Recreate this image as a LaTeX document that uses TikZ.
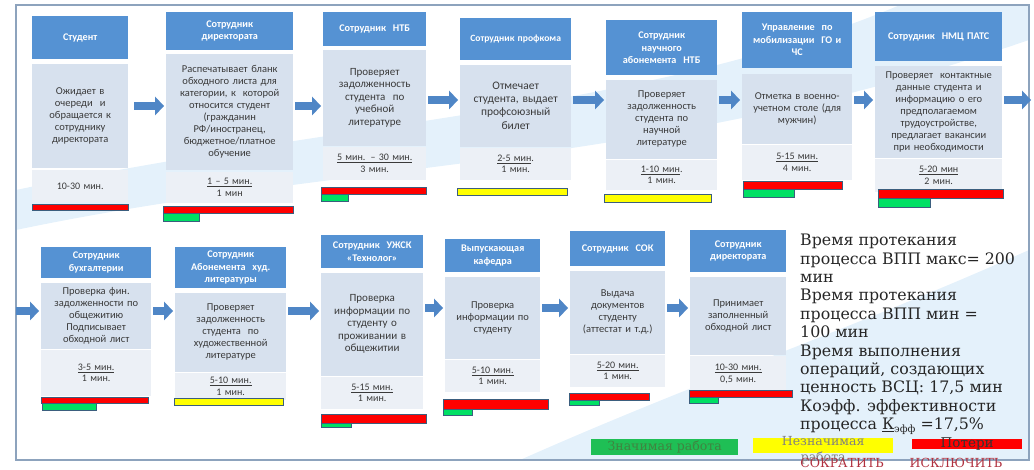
\documentclass[tikz,border=0pt]{standalone}
\usepackage{fontspec}
\setmainfont{Carlito}
\newfontfamily\serifcyr{DejaVu Serif}
\usepackage{xcolor}
\usepackage{tikz}
\usetikzlibrary{arrows.meta,positioning}
\definecolor{headblue}{HTML}{5592D3}
\definecolor{bodytint}{HTML}{D7E1EE}
\definecolor{timetint}{HTML}{ECF0F6}
\definecolor{inkgray}{HTML}{3A3A3A}
\definecolor{arrowblue}{HTML}{4F86C6}
\definecolor{barframe}{HTML}{3B5E7E}
\definecolor{lossred}{HTML}{FF0000}
\definecolor{valuegreen}{HTML}{00E064}
\definecolor{minoryellow}{HTML}{FFFF00}
\definecolor{framegray}{HTML}{8DA3BD}
\definecolor{swoosh}{HTML}{E4F1FB}
\definecolor{darkred}{HTML}{B0313F}
\definecolor{legendgreen}{HTML}{1FBF55}
\tikzset{
  headbox/.style={fill=headblue,inner xsep=3pt,inner ysep=2pt,font=\fontsize{10.2}{12.5}\selectfont\bfseries,text=white,align=center,anchor=north west},
  bodybox/.style={fill=bodytint,inner xsep=3pt,inner ysep=2pt,font=\fontsize{10.5}{12}\selectfont,text=inkgray,align=center},
  timebox/.style={fill=timetint,inner xsep=3pt,inner ysep=2pt,font=\fontsize{10}{11.5}\selectfont,text=inkgray,align=center},
  flowarrow/.style={-{Triangle[length=9pt,width=19pt,line width=0pt]},draw=arrowblue,line width=8pt,shorten <=2pt,shorten >=2pt},
  lossbar/.style={fill=lossred,draw=barframe,line width=0.9pt},
  valuebar/.style={fill=valuegreen,draw=barframe,line width=0.9pt},
  minorbar/.style={fill=minoryellow,draw=barframe,line width=0.9pt},
  sumtext/.style={font=\serifcyr\fontsize{15.8}{18.4}\selectfont,text=black!85,align=left,inner sep=0pt,anchor=north west},
  legendbox/.style={minimum height=16pt,inner sep=0pt,anchor=north west},
  legendtext/.style={font=\serifcyr\fontsize{12.5}{16}\selectfont,inner sep=0pt},
}
\begin{document}
\begin{tikzpicture}[x=1pt,y=-1pt]
    \useasboundingbox (0,0) rectangle (1034,470);
    % background
    \begin{scope}
      \clip (16,5) rectangle (1029,460);
      \fill[swoosh] (16,230) .. controls (350,160) and (650,170) .. (1029,40) -- (1029,5) -- (900,5) .. controls (650,110) and (350,120) .. (16,190) -- cycle;
      \fill[swoosh] (520,460) .. controls (700,380) and (850,330) .. (1029,250) -- (1029,460) -- cycle;
    \end{scope}
    \draw[framegray,line width=1.5pt] (16,5) rectangle (1029,460);
    \coordinate (row1a) at (0,106); \coordinate (row1b) at (0,100);
    \coordinate (row2a) at (0,311); \coordinate (row2b) at (0,308);
    \coordinate (exit1) at (1031,100); \coordinate (entry2) at (16,311);

    % upper row
    \node[headbox,text width=90pt,minimum height=43pt] (hd1) at (32,16) {Студент};
    \node[bodybox,text width=90pt,minimum height=104pt,below=4pt of hd1] (bd1) {Ожидает в\\очереди \ и\\обращается к\\сотруднику\\директората};
    \node[timebox,text width=90pt,minimum height=32pt,below=2pt of bd1] (tm1) {10-30 мин.};

    \node[headbox,text width=121pt,minimum height=38pt] (hd2) at (166,12) {Сотрудник\\директората};
    \node[bodybox,text width=121pt,minimum height=116pt,below=3pt of hd2] (bd2) {Распечатывает бланк\\обходного листа для\\категории, к \ которой\\относится студент\\(гражданин\\РФ/иностранец,\\бюджетное/платное\\обучение};
    \node[timebox,text width=121pt,minimum height=31pt,below=2pt of bd2] (tm2) {\underline{1 – 5 мин.}\\1 мин};

    \node[headbox,text width=97pt,minimum height=34pt] (hd3) at (323,12) {Сотрудник \ НТБ};
    \node[bodybox,text width=97pt,minimum height=96pt,below=3pt of hd3,font=\fontsize{11}{12.5}\selectfont] (bd3) {Проверяет\\задолженность\\студента \ по\\учебной\\литературе};
    \node[timebox,text width=97pt,minimum height=33pt,below=1pt of bd3] (tm3) {\underline{5 мин. – 30 мин.}\\3 мин.};

    \node[headbox,text width=105pt,minimum height=42pt,font=\fontsize{9.6}{12.5}\selectfont\bfseries] (hd4) at (460,18) {Сотрудник профкома};
    \node[bodybox,text width=105pt,minimum height=82pt,below=4pt of hd4,font=\fontsize{11.5}{13.3}\selectfont] (bd4) {Отмечает\\студента, выдает\\профсоюзный\\билет};
    \node[timebox,text width=105pt,minimum height=32pt,below=1pt of bd4] (tm4) {\underline{2-5 мин}.\\1 мин.};

    \node[headbox,text width=105pt,minimum height=55pt] (hd5) at (606,20) {Сотрудник\\научного\\абонемента \ НТБ};
    \node[bodybox,text width=105pt,minimum height=79pt,below=4pt of hd5] (bd5) {Проверяет\\задолженность\\студента по\\научной\\литературе};
    \node[timebox,text width=105pt,minimum height=30pt,below=1pt of bd5] (tm5) {\underline{1-10 мин}.\\1 мин.};

    \node[headbox,text width=104pt,minimum height=56pt] (hd6) at (742,12) {Управление \ по\\мобилизации \ ГО и\\ЧС};
    \node[bodybox,text width=104pt,minimum height=70pt,below=5pt of hd6] (bd6) {Отметка в военно-\\учетном столе (для\\мужчин)};
    \node[timebox,text width=104pt,minimum height=35pt,below=1pt of bd6] (tm6) {\underline{5-15 мин.}\\4 мин.};

    \node[headbox,text width=121pt,minimum height=49pt] (hd7) at (875,12) {Сотрудник \ НМЦ ПАТС};
    \node[bodybox,text width=121pt,minimum height=92pt,below=4pt of hd7] (bd7) {Проверяет \ контактные\\данные студента и\\информацию о его\\предполагаемом\\трудоустройстве,\\предлагает вакансии\\при необходимости};
    \node[timebox,text width=121pt,minimum height=33pt,below=1pt of bd7] (tm7) {\underline{5-20 мин}\\2 мин.};

    % lower row
    \node[headbox,text width=104pt,minimum height=31pt] (hd8) at (41,247) {Сотрудник\\бухгалтерии};
    \node[bodybox,text width=104pt,minimum height=66pt,below=4pt of hd8] (bd8) {Проверка фин.\\задолженности по\\общежитию\\Подписывает\\обходной лист};
    \node[timebox,text width=104pt,minimum height=46pt,below=1pt of bd8] (tm8) {\underline{3-5 мин.}\\1 мин.};

    \node[headbox,text width=105pt,minimum height=41pt] (hd9) at (175,247) {Сотрудник\\Абонемента \ худ.\\литературы};
    \node[bodybox,text width=105pt,minimum height=79pt,below=4pt of hd9] (bd9) {Проверяет\\задолженность\\студента \ по\\художественной\\литературе};
    \node[timebox,text width=105pt,minimum height=27pt,below=1pt of bd9] (tm9) {\underline{5-10 мин.}\\1 мин.};

    \node[headbox,text width=96pt,minimum height=33pt] (hd10) at (321,235) {Сотрудник \ УЖСК\\«Технолог»};
    \node[bodybox,text width=96pt,minimum height=103pt,below=4pt of hd10,font=\fontsize{11}{12.5}\selectfont] (bd10) {Проверка\\информации по\\студенту о\\проживании в\\общежитии};
    \node[timebox,text width=96pt,minimum height=32pt,below=1pt of bd10] (tm10) {\underline{5-15 мин.}\\1 мин.};

    \node[headbox,text width=89pt,minimum height=33pt] (hd11) at (445,239) {Выпускающая\\кафедра};
    \node[bodybox,text width=89pt,minimum height=82pt,below=4pt of hd11] (bd11) {Проверка\\информации по\\студенту};
    \node[timebox,text width=89pt,minimum height=32pt,below=1pt of bd11] (tm11) {\underline{5-10 мин.}\\1 мин.};

    \node[headbox,text width=89pt,minimum height=35pt] (hd12) at (570,231) {Сотрудник \ СОК};
    \node[bodybox,text width=89pt,minimum height=83pt,below=4pt of hd12] (bd12) {Выдача\\документов\\студенту\\(аттестат и т.д.)};
    \node[timebox,text width=89pt,minimum height=32pt,below=1pt of bd12] (tm12) {\underline{5-20 мин.}\\1 мин.};

    \node[headbox,text width=90pt,minimum height=42pt] (hd13) at (690,230) {Сотрудник\\директората};
    \node[bodybox,text width=90pt,minimum height=78pt,below=4pt of hd13] (bd13) {Принимает\\заполненный\\обходной лист};
    \node[timebox,text width=90pt,minimum height=36pt,below=1pt of bd13] (tm13) {\underline{10-30 мин.}\\0,5 мин.};

    % bars under the cards
    \draw[lossbar] ([shift={(0,2)}]tm1.south west) rectangle ++(96,6);
    \draw[lossbar] ([shift={(-3,3)}]tm2.south west) rectangle ++(130,7);
    \draw[valuebar] ([shift={(-3,10)}]tm2.south west) rectangle ++(36,8);
    \draw[lossbar] ([shift={(-2,7)}]tm3.south west) rectangle ++(105,7);
    \draw[valuebar] ([shift={(-2,14)}]tm3.south west) rectangle ++(27,7);
    \draw[minorbar] ([shift={(-3,8)}]tm4.south west) rectangle ++(110,7);
    \draw[minorbar] ([shift={(-2,4)}]tm5.south west) rectangle ++(107,8);
    \draw[lossbar] ([shift={(1,1)}]tm6.south west) rectangle ++(99,8);
    \draw[valuebar] ([shift={(1,9)}]tm6.south west) rectangle ++(51,8);
    \draw[lossbar] ([shift={(3,-3)}]tm7.south west) rectangle ++(125,9);
    \draw[valuebar] ([shift={(3,6)}]tm7.south west) rectangle ++(52,9);
    \draw[lossbar] ([shift={(0,1)}]tm8.south west) rectangle ++(107,6);
    \draw[valuebar] ([shift={(1,7)}]tm8.south west) rectangle ++(54,7);
    \draw[minorbar] ([shift={(-1,-2)}]tm9.south west) rectangle ++(109,7);
    \draw[lossbar] ([shift={(0,5)}]tm10.south west) rectangle ++(105,9);
    \draw[valuebar] ([shift={(0,14)}]tm10.south west) rectangle ++(30,4);
    \draw[lossbar] ([shift={(-2,7)}]tm11.south west) rectangle ++(105,10);
    \draw[valuebar] ([shift={(-2,17)}]tm11.south west) rectangle ++(29,6);
    \draw[lossbar] ([shift={(-1,6)}]tm12.south west) rectangle ++(80,7);
    \draw[valuebar] ([shift={(-1,13)}]tm12.south west) rectangle ++(30,5);
    \draw[lossbar] ([shift={(-1,-2)}]tm13.south west) rectangle ++(103,7);
    \draw[valuebar] ([shift={(-1,5)}]tm13.south west) rectangle ++(29,6);

    % arrows
    \draw[flowarrow,shorten <=6pt] (bd1.east |- row1a) -- (bd2.west |- row1a);
    \draw[flowarrow] (bd2.east |- row1a) -- (bd3.west |- row1a);
    \draw[flowarrow] (bd3.east |- row1b) -- (bd4.west |- row1b);
    \draw[flowarrow] (bd4.east |- row1b) -- (bd5.west |- row1b);
    \draw[flowarrow] (bd5.east |- row1b) -- (bd6.west |- row1b);
    \draw[flowarrow] (bd6.east |- row1b) -- (bd7.west |- row1b);
    \draw[flowarrow,shorten >=0pt] (bd7.east |- row1b) -- (exit1);
    \draw[flowarrow,shorten <=0pt] (entry2) -- (bd8.west |- row2a);
    \draw[flowarrow] (bd8.east |- row2a) -- (bd9.west |- row2a);
    \draw[flowarrow] (bd9.east |- row2a) -- (bd10.west |- row2a);
    \draw[flowarrow] (bd10.east |- row2b) -- (bd11.west |- row2b);
    \draw[flowarrow] (bd11.east |- row2b) -- (bd12.west |- row2b);
    \draw[flowarrow] (bd12.east |- row2b) -- (bd13.west |- row2b);

    % summary and legend
    \node[sumtext] (sum) at (800,234) {Время протекания\\процесса ВПП макс= 200\\мин\\Время протекания\\процесса ВПП мин =\\100 мин\\Время выполнения\\операций, создающих\\ценность ВСЦ: 17,5 мин\\Коэфф. эффективности\\процесса \underline{К}\raisebox{-3pt}{\fontsize{10}{10}\selectfont эфф} =17,5\%};
    \node[legendbox,legendtext,fill=legendgreen,minimum width=147pt,text=green!35!black!75] (lg1) at (591,439) {Значимая работа};
    \node[legendbox,fill=minoryellow,minimum width=140pt,minimum height=15pt] (lg2) at (753,438) {};
    \node[legendtext,text=gray,align=center] (lg2t) at ([yshift=-4.5pt]lg2.center) {Незначимая\\работа};
    \node[legendbox,fill=lossred,minimum width=110pt,minimum height=10pt] (lg3) at (912,439) {};
    \node[legendtext,font=\serifcyr\fontsize{13.5}{16}\selectfont,text=black!80] (lg3t) at (lg3.center) {Потери};
    \node[legendtext,text=darkred] (cut) at (842,463) {СОКРАТИТЬ};
    \node[legendtext,text=darkred] (drop) at (956,463) {ИСКЛЮЧИТЬ};
  \end{tikzpicture}
\end{document}
